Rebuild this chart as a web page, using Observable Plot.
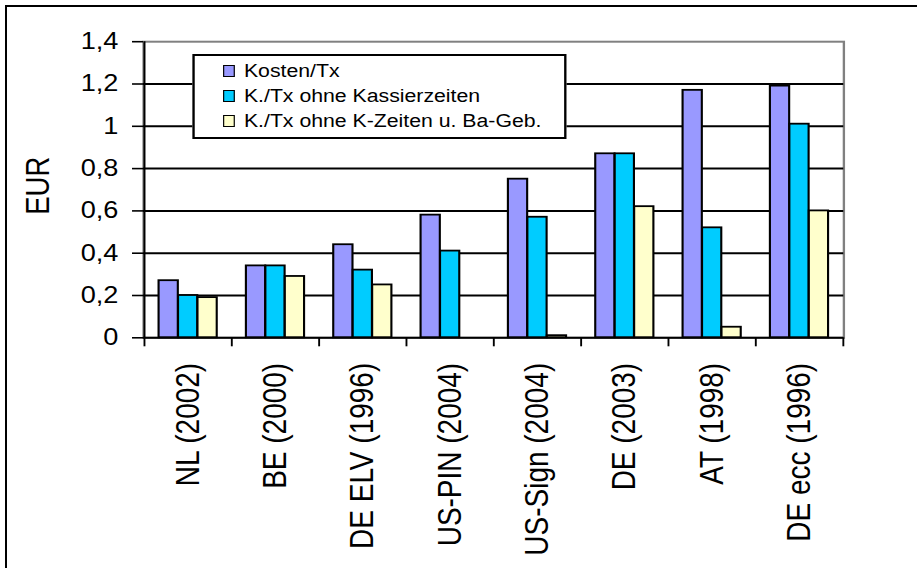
<!DOCTYPE html>
<html>
<head>
<meta charset="utf-8">
<script src="https://cdn.jsdelivr.net/npm/d3@7"></script>
<script src="https://cdn.jsdelivr.net/npm/@observablehq/plot@0.6"></script>
<style>
  html, body { margin: 0; padding: 0; background: #fff; }
  body { width: 917px; height: 568px; overflow: hidden; position: relative; font-family: "Liberation Sans", Arial, sans-serif; }
  #frame { position: absolute; left: 5px; top: 5px; width: 940px; height: 600px; border-top: 2px solid #000; border-left: 2px solid #000; }
  #stage { position: absolute; left: 0; top: 0; width: 777px; height: 568px; transform-origin: 0 0; }
  #legend { position: absolute; box-sizing: border-box; background: #fff; border: 2px solid #000; }
  .lrow { position: absolute; height: 20px; line-height: 20px; font-size: 18px; color: #000; white-space: nowrap; }
  .lsw { position: absolute; box-sizing: border-box; border: 1.5px solid #000; }
</style>
</head>
<body>
<div id="frame"></div>
<div id="stage"></div>
<script>
// ---- data ----
const categories = ["NL (2002)", "BE (2000)", "DE ELV (1996)", "US-PIN (2004)", "US-Sign (2004)", "DE (2003)", "AT (1998)", "DE ecc (1996)"];
const seriesNames = ["Kosten/Tx", "K./Tx ohne Kassierzeiten", "K./Tx ohne K-Zeiten u. Ba-Geb."];
const kostenTx = [0.27, 0.34, 0.44, 0.58, 0.75, 0.87, 1.17, 1.19];
const ohneKassierzeiten = [0.20, 0.34, 0.32, 0.41, 0.57, 0.87, 0.52, 1.01];
const ohneKZeitenBaGeb = [0.19, 0.29, 0.25, null, 0.01, 0.62, 0.05, 0.60];
const seriesColors = ["#9999FF", "#00CCFF", "#FFFFCC"];
const yTicks = [0, 0.2, 0.4, 0.6, 0.8, 1, 1.2, 1.4];
const yTickLabels = ["0", "0,2", "0,4", "0,6", "0,8", "1", "1,2", "1,4"];
const yLabel = "EUR";

// ---- layout ----
const SX = 917 / 777;              // horizontal stretch of the original picture
const W = 777, H = 568;
const mLeft = 143 / SX, mRight = 917 / SX - 843.3 / SX, mTop = 41.2, mBottom = H - 337.3;
const band = (W - mLeft - mRight) / categories.length;
const barW = band / 4.5, outer = barW * 0.75;

const seriesValues = [kostenTx, ohneKassierzeiten, ohneKZeitenBaGeb];
const rows = categories.flatMap((c, i) => seriesValues.map((vals, k) => ({category: c, series: seriesNames[k], value: vals[i]})))
  .filter(d => d.value != null);

const barMarks = seriesNames.map((s, k) => Plot.barY(rows.filter(d => d.series === s), {
  x: "category", y1: 0, y2: "value", fill: "series",
  stroke: "#000", strokeWidth: 1.8,
  insetLeft: outer + k * barW, insetRight: band - outer - (k + 1) * barW
}));

const chart = Plot.plot({
  width: W, height: H,
  marginLeft: mLeft, marginRight: mRight, marginTop: mTop, marginBottom: mBottom,
  style: {fontFamily: "'Liberation Sans', Arial, sans-serif", background: "transparent", color: "#000", overflow: "visible"},
  x: {type: "band", domain: categories, padding: 0, axis: null},
  y: {domain: [0, 1.4], axis: null},
  color: {domain: seriesNames, range: seriesColors},
  marks: [
    Plot.frame({stroke: "#808080", strokeWidth: 2}),
    Plot.gridY(yTicks.filter(t => t > 0 && t < 1.4), {stroke: "#000", strokeOpacity: 1, strokeWidth: 2}),
    ...barMarks,
    Plot.ruleY([0], {stroke: "#000", strokeWidth: 2}),
    Plot.ruleX([categories[0]], {x: d => d, dx: -band / 2, stroke: "#000", strokeWidth: 1.7}),
    Plot.axisY({ticks: yTicks, tickFormat: d => yTickLabels[yTicks.indexOf(d)], tickSize: 9.3, tickPadding: 12, fontSize: 23, strokeWidth: 1.6, label: null}),
    Plot.axisX({tickSize: 0, tickPadding: 25, tickRotate: -90, fontSize: 28, label: null}),
    Plot.axisX({tickSize: 9, tickFormat: () => "", dx: -band / 2, strokeWidth: 1.6, label: null}),
    Plot.axisX({ticks: [categories[categories.length - 1]], tickSize: 9, tickFormat: () => "", dx: band / 2, strokeWidth: 1.6, label: null}),
    Plot.text([yLabel], {text: d => d, frameAnchor: "left", rotate: -90, dx: 32.2 - mLeft, dy: -4, fontSize: 27.5, textAnchor: "middle", lineAnchor: "middle", fill: "#000"})
  ]
});

const stage = document.getElementById("stage");
stage.style.transform = `scaleX(${SX})`;
stage.appendChild(chart);

// ---- legend (overlaid on plot area, as in the original) ----
const legend = document.createElement("div");
legend.id = "legend";
legend.style.left = (192 / SX) + "px";
legend.style.top = "54px";
legend.style.width = ((566 - 192) / SX) + "px";
legend.style.height = "85px";
seriesNames.forEach((name, k) => {
  const cy = 15 + k * 25;
  const sw = document.createElement("div");
  sw.className = "lsw";
  sw.style.left = "24.5px";
  sw.style.top = (cy - 6) + "px";
  sw.style.width = (12 / SX) + "px";
  sw.style.height = "12px";
  sw.style.background = seriesColors[k];
  legend.appendChild(sw);
  const t = document.createElement("div");
  t.className = "lrow";
  t.style.left = "42px";
  t.style.top = (cy - 10) + "px";
  t.textContent = name;
  legend.appendChild(t);
});
stage.appendChild(legend);
</script>
</body>
</html>
